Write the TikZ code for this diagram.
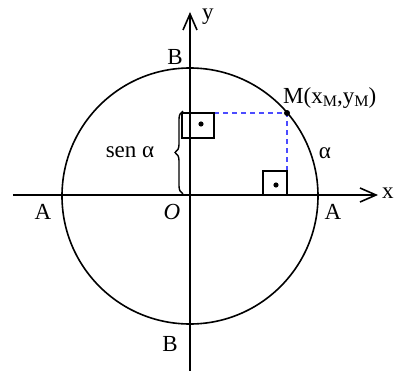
\documentclass[tikz,border=0pt]{standalone}
\usepackage{fontspec}
\setmainfont{Liberation Serif}
\usetikzlibrary{arrows.meta,decorations.pathreplacing}
\newcommand{\subM}{\raisebox{-3.5pt}{\fontsize{16}{16}\selectfont M}}

\begin{document}
\begin{tikzpicture}[x=1pt,y=1pt,
  axis/.style={line width=1.6pt, -{Straight Barb[length=16pt,width=14pt,line width=1.6pt]}},
  lbl/.style={font=\fontsize{23}{26}\selectfont, inner sep=0pt},
  rightbox/.style={line width=1.6pt},
  proj/.style={blue!70!white, line width=1.3pt, dash pattern=on 5pt off 4pt}]
\useasboundingbox (-190,-175) rectangle (206,195);
% axes
\coordinate (xs) at (-177,0);
\coordinate (xe) at (188,0);
\coordinate (ys) at (0,-176);
\coordinate (ye) at (0,183);
\draw[line width=1.6pt] (0,-1) circle (128);
\draw[axis] (xs) -- (xe);
\draw[axis] (ys) -- (ye);
% point M and its projections
\coordinate (M) at (97,82);
\coordinate (My) at (24,82);
\coordinate (Mx) at (97,24);
\draw[proj] (My) -- (M) -- (Mx);
\draw[rightbox] (-8,57) rectangle (24,82);
\draw[rightbox] (73,0) rectangle (97,24);
\fill (11,71) circle (2.6pt);
\fill (86,10) circle (2.6pt);
\fill (M) circle (3pt);
\draw[line width=1.4pt, decorate, decoration={brace, amplitude=8pt}] (-7,1) -- (-7,84);
% labels
\node[lbl] (sen) at (-60,43) {sen α};
\node[lbl] (alpha) at (135,42) {α};
\node[lbl] (Al) at (-147,-17) {A};
\node[lbl] (Ar) at (143,-17) {A};
\node[lbl] (O) at (-18,-17) {\textit{O}};
\node[lbl] (Bt) at (-15,138) {B};
\node[lbl] (Bb) at (-20,-149) {B};
\node[lbl] (ylab) at (18,178) {y};
\node[lbl, anchor=west] (xlab) at (192,2) {x};
\node[lbl, anchor=west] (Mlab) at (93,97) {M(x\subM,y\subM)};
\end{tikzpicture}
\end{document}
